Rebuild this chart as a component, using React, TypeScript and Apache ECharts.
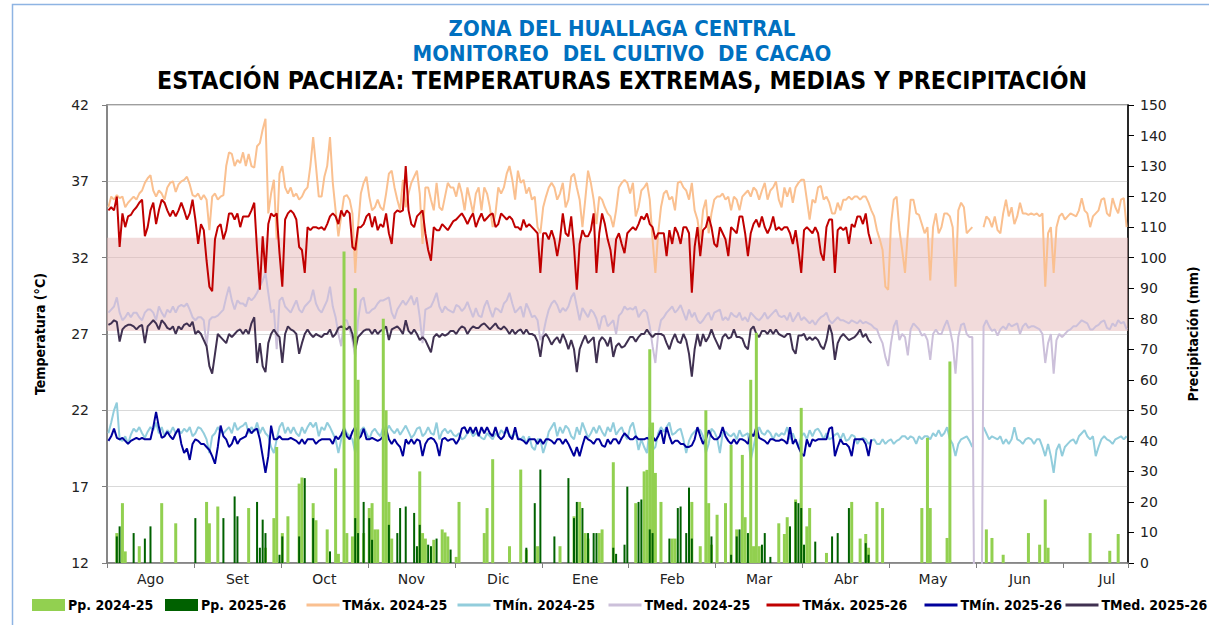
import React, { useEffect, useRef } from "react";
import * as echarts from "echarts";

// ---- categories: 12 months x 31 day-slots (last month shown up to slot 364) ----
const months = ["Ago", "Set", "Oct", "Nov", "Dic", "Ene", "Feb", "Mar", "Abr", "May", "Jun", "Jul"];
const SLOTS_PER_MONTH = 31;
const TOTAL_SLOTS = 364;

// ---- left axis ticks (°C) & right axis ticks (mm) ----
const tempTicks = [12, 17, 22, 27, 32, 37, 42];
const ppTicks = [0, 10, 20, 30, 40, 50, 60, 70, 80, 90, 100, 110, 120, 130, 140, 150];
const bandRange = [27.2, 33.3];

// ---- TMáx. 2024-25 ----
const tmax2425 = [
  35.3, 36.0, 35.8, 36.1, 35.9, 36.0, 35.3, 35.6, 35.8, 36.0, 35.8, 36.2, 36.4, 36.9, 37.2, 37.4, 36.4, 36.0, 36.4, 36.2, 35.8, 36.6, 36.9, 37.0, 36.3, 36.8, 37.0, 37.1, 37.3, 36.8, 36.1,
  36.0, 36.2, 35.8, 36.1, 35.8, 33.8, 36.0, 36.2, 35.8, 36.0, 36.1, 38.0, 38.9, 38.8, 38.0, 38.4, 38.2, 38.9, 38.0, 38.8, 38.0, 37.9, 39.3, 39.5, 40.4, 41.1, 34.9, 36.2, 37.1, 33.2, 37.5,
  38.0, 36.6, 36.2, 36.6, 36.0, 36.2, 35.8, 36.0, 36.4, 36.6, 38.0, 39.9, 38.0, 36.0, 36.0, 37.3, 38.0, 39.9, 36.9, 35.1, 33.4, 34.7, 36.0, 36.1, 35.8, 34.9, 31.0, 34.0, 36.2, 36.9, 37.3,
  36.0, 35.1, 35.3, 35.8, 35.3, 35.1, 36.2, 37.5, 37.7, 36.6, 35.8, 35.1, 37.1, 35.3, 36.2, 36.9, 37.3, 37.7, 36.2, 32.9, 36.6, 36.6, 35.8, 35.1, 36.9, 35.3, 35.1, 36.0, 36.9, 36.6, 36.6,
  36.0, 36.9, 36.2, 35.1, 36.6, 35.8, 34.9, 36.2, 36.6, 35.1, 36.6, 36.2, 35.3, 34.0, 34.9, 36.6, 36.2, 36.6, 37.5, 38.0, 37.1, 35.8, 37.7, 36.9, 37.1, 36.2, 36.6, 35.8, 36.0, 34.0, 33.6,
  35.3, 36.0, 36.6, 36.9, 36.6, 35.8, 36.2, 36.9, 35.3, 35.8, 37.3, 37.5, 36.6, 35.8, 34.0, 35.8, 37.7, 36.9, 35.8, 34.2, 36.0, 35.8, 35.3, 34.9, 34.7, 34.0, 35.1, 36.6, 36.9, 37.1, 36.9,
  36.2, 36.9, 34.7, 35.3, 36.4, 36.6, 36.9, 35.8, 33.2, 31.0, 33.6, 35.3, 36.2, 36.4, 35.8, 36.0, 35.1, 36.9, 37.0, 36.6, 36.4, 35.8, 36.9, 35.1, 34.5, 33.2, 35.1, 35.8, 33.6, 34.9, 35.8,
  36.0, 36.0, 36.2, 35.8, 36.0, 35.1, 36.0, 35.8, 35.1, 36.0, 36.2, 36.4, 36.0, 36.6, 36.4, 35.8, 36.4, 36.9, 35.8, 36.4, 36.6, 37.0, 35.8, 35.3, 36.6, 36.0, 36.6, 35.6, 36.6, 36.9, 37.1,
  37.1, 35.8, 34.5, 35.8, 35.6, 36.6, 36.7, 35.8, 36.0, 35.6, 34.9, 34.9, 35.6, 35.1, 35.8, 35.8, 36.0, 35.8, 36.0, 36.0, 35.8, 36.0, 36.0, 35.6, 35.1, 34.7, 33.8, 33.2, 32.5, 30.1, 29.9,
  34.2, 35.8, 36.0, 33.8, 32.5, 31.0, 33.6, 35.8, 35.8, 34.9, 34.8, 34.2, 33.6, 34.0, 30.5, 34.0, 34.9, 33.6, 34.0, 34.9, 34.9, 34.7, 34.0, 30.1, 35.1, 35.6, 35.3, 33.6, 33.8, 34.0, null,
  null, null, 34.0, 34.7, 34.5, 34.0, 34.7, 33.8, 33.6, 34.9, 35.8, 34.7, 35.3, 34.2, 34.7, 35.6, 34.9, 34.9, 34.8, 34.9, 34.8, 34.9, 34.7, 34.9, 30.1, 33.6, 34.0, 31.0, 34.0, 34.7, 34.9,
  34.5, 34.7, 34.9, 34.8, 34.7, 35.1, 35.9, 35.1, 34.9, 34.0, 34.7, 34.9, 35.1, 35.8, 35.9, 34.9, 34.7, 35.9, 35.3, 34.9, 35.8, 35.9, 34.0,
];

// ---- TMín. 2024-25 ----
const tmin2425 = [
  20.5, 21.2, 22.0, 22.5, 20.1, 20.0, 20.3, 19.8, 20.4, 20.8, 20.6, 20.9, 20.5, 20.2, 20.6, 20.9, 20.7, 21.2, 20.5, 20.9, 20.3, 20.7, 20.5, 20.9, 20.5, 20.7, 20.5, 20.8, 20.6, 20.9, 20.3,
  20.5, 20.9, 20.8, 20.5, 20.1, 19.2, 20.3, 20.5, 20.9, 20.6, 20.5, 20.7, 20.9, 20.5, 21.2, 20.7, 20.9, 21.0, 21.2, 20.5, 20.9, 20.6, 21.2, 20.5, 20.9, 20.5, 20.3, 19.6, 19.2, 20.1, 20.9,
  21.2, 20.5, 20.9, 20.5, 20.9, 20.5, 20.3, 20.9, 20.5, 20.9, 21.2, 20.9, 21.2, 20.3, 20.9, 20.7, 21.2, 20.9, 20.5, 20.1, 19.2, 20.1, 20.9, 20.5, 20.3, 20.1, 19.2, 20.1, 20.7, 20.9, 20.5,
  20.1, 20.6, 20.8, 20.5, 20.3, 20.9, 20.6, 21.0, 20.7, 20.5, 20.8, 20.4, 20.7, 21.0, 20.6, 20.2, 20.4, 20.8, 20.9, 20.3, 20.5, 20.9, 20.5, 20.4, 21.2, 20.1, 20.6, 20.8, 20.5, 20.7, 20.4,
  20.3, 20.5, 20.1, 20.2, 20.5, 20.7, 20.3, 20.5, 20.4, 20.2, 20.1, 20.5, 20.3, 20.1, 20.5, 20.3, 20.7, 20.5, 20.6, 20.4, 20.3, 20.5, 20.2, 20.1, 20.3, 19.8, 20.3, 19.6, 19.4, 20.1, 20.1,
  19.2, 19.8, 20.6, 20.9, 21.2, 20.3, 20.9, 20.5, 21.0, 20.8, 20.3, 20.1, 20.9, 20.4, 21.2, 20.7, 20.2, 20.5, 20.9, 20.5, 21.0, 20.6, 20.3, 20.9, 20.6, 21.2, 20.4, 20.7, 20.9, 20.4, 20.1,
  20.9, 21.2, 20.4, 19.4, 20.1, 19.6, 19.2, 20.9, 19.4, 19.6, 20.5, 20.9, 20.6, 20.9, 21.2, 20.4, 20.5, 20.7, 20.8, 20.1, 19.2, 20.0, 20.4, 20.6, 20.8, 20.7, 20.3, 19.2, 19.8, 20.8, 20.6,
  20.2, 19.2, 20.5, 20.6, 20.4, 20.3, 20.5, 20.1, 20.7, 20.3, 20.4, 20.5, 18.75, 19.6, 20.5, 20.9, 20.5, 20.4, 20.7, 20.5, 20.1, 20.5, 20.3, 20.5, 20.4, 20.9, 20.1, 20.5, 20.0, 19.6, 20.3,
  20.5, 20.1, 20.7, 20.3, 20.7, 20.8, 20.5, 20.1, 20.5, 20.1, 20.2, 20.4, 20.5, 20.1, 20.5, 20.0, 20.1, 20.4, 20.3, 19.8, 20.1, 20.2, 20.1, 19.8, 20.0, 20.1, 19.8, 19.8, 20.1, 19.8, 20.0,
  20.1, 19.8, 20.0, 20.1, 20.3, 20.3, 20.1, 20.3, 20.2, 19.8, 20.3, 20.1, 20.3, 20.3, 20.1, 20.5, 20.3, 20.7, 20.3, 20.5, 20.9, 20.1, 19.8, 19.0, 19.8, 20.1, 20.2, 20.3, 20.0, 19.6, null,
  null, null, 20.9, 20.5, 20.1, 20.3, 20.2, 20.1, 20.3, 19.8, 20.1, 19.8, 20.1, 20.9, 20.1, 20.0, 19.8, 20.1, 20.2, 20.1, 19.8, 20.1, 20.1, 19.6, 19.0, 19.8, 19.0, 17.9, 19.4, 19.8, 19.0,
  19.6, 19.8, 20.0, 20.1, 19.8, 20.3, 20.5, 20.7, 20.3, 20.1, 20.3, 19.0, 19.6, 20.1, 20.3, 20.1, 20.0, 19.8, 20.1, 20.2, 20.3, 20.1, 20.3,
];

// ---- TMed. 2024-25 ----
const tmed2425 = [
  28.4, 28.6, 28.8, 29.4, 28.4, 27.9, 28.1, 28.4, 28.1, 28.4, 28.4, 28.1, 27.9, 28.4, 28.6, 28.6, 28.4, 27.9, 28.8, 28.4, 28.1, 28.6, 28.4, 28.8, 28.4, 28.8, 28.9, 28.8, 29.0, 28.6, 28.1,
  27.9, 28.1, 28.1, 27.9, 26.2, 27.9, 28.1, 28.1, 28.2, 28.4, 28.6, 29.4, 30.1, 29.2, 28.6, 29.2, 29.0, 29.0, 28.8, 29.4, 29.2, 29.4, 29.7, 30.1, 30.5, 31.0, 29.7, 28.4, 28.6, 26.0, 29.2,
  29.4, 28.8, 28.6, 28.4, 28.8, 29.2, 28.6, 28.4, 28.8, 29.0, 29.2, 29.9, 29.0, 28.6, 28.4, 28.8, 29.2, 30.1, 28.8, 28.1, 27.0, 26.2, 27.9, 27.9, 27.3, 26.6, 25.5, 27.9, 29.2, 29.4, 28.4,
  28.4, 28.6, 28.7, 29.0, 29.2, 29.2, 29.3, 29.4, 28.4, 28.0, 28.6, 28.9, 29.2, 28.9, 29.2, 29.5, 28.9, 29.4, 28.1, 26.4, 28.6, 28.7, 28.8, 29.2, 29.7, 28.8, 28.4, 28.8, 28.6, 28.5, 28.4,
  28.9, 28.8, 28.5, 28.7, 29.1, 28.6, 28.1, 28.7, 28.2, 28.1, 28.8, 29.2, 28.6, 28.1, 28.7, 28.6, 28.4, 29.0, 29.2, 29.7, 29.0, 28.4, 28.6, 28.8, 28.1, 29.0, 28.6, 28.1, 28.2, 27.9, 26.6,
  27.0, 27.9, 28.6, 29.0, 29.2, 28.9, 28.4, 28.7, 28.5, 28.8, 29.4, 29.7, 28.8, 27.9, 28.7, 28.4, 28.1, 28.6, 28.4, 28.0, 27.3, 28.1, 28.2, 27.5, 27.7, 27.9, 27.0, 28.2, 28.4, 28.8, 28.6,
  28.7, 28.6, 28.8, 28.1, 28.4, 28.6, 28.4, 27.5, 26.2, 25.1, 27.0, 27.9, 28.1, 28.4, 28.6, 28.8, 28.4, 28.6, 28.9, 28.4, 27.9, 28.6, 28.1, 28.4, 27.9, 27.7, 27.9, 28.2, 28.4, 27.9, 28.4,
  28.5, 28.6, 27.9, 28.1, 27.9, 28.4, 28.2, 28.1, 28.4, 27.9, 28.1, 27.8, 28.4, 28.2, 28.0, 27.9, 28.1, 28.4, 28.0, 28.2, 28.4, 28.6, 28.2, 28.1, 28.2, 27.9, 28.4, 27.8, 28.1, 28.4, 27.9,
  28.1, 27.9, 27.7, 27.9, 27.6, 27.9, 28.1, 28.2, 28.4, 27.9, 27.7, 27.9, 28.1, 27.9, 27.9, 27.8, 27.7, 27.9, 27.8, 27.7, 27.9, 27.7, 27.8, 27.7, 27.6, 27.4, 27.3, 26.8, 26.4, 25.5, 24.9,
  26.4, 27.5, 27.9, 26.6, 27.0, 26.8, 25.6, 27.3, 27.7, 27.5, 27.3, 26.9, 27.0, 26.6, 25.3, 27.0, 27.3, 27.0, 27.0, 27.5, 27.9, 27.3, 26.4, 24.4, 26.8, 27.6, 27.7, 27.0, 26.8, 26.8, 0,
  0, 0, 27.5, 27.9, 27.5, 27.2, 27.3, 26.9, 27.3, 27.5, 27.3, 27.7, 27.5, 27.6, 27.7, 27.0, 27.5, 27.7, 27.4, 27.5, 27.5, 27.4, 27.3, 27.0, 25.1, 26.4, 27.0, 24.4, 26.6, 27.0, 26.8,
  27.0, 27.2, 27.3, 27.5, 27.5, 27.7, 27.9, 27.8, 27.7, 27.3, 27.3, 27.5, 27.6, 27.8, 27.9, 27.4, 27.3, 27.7, 27.5, 27.9, 27.7, 27.8, 27.3,
];

// ---- TMáx. 2025-26 (Aug 2025 - Apr 2026) ----
const tmax2526 = [
  35.1, 35.3, 35.1, 36.0, 32.7, 34.9, 34.0, 34.7, 34.8, 35.1, 35.3, 35.6, 35.8, 33.4, 34.0, 35.1, 35.6, 34.2, 35.1, 35.8, 35.6, 35.1, 34.7, 35.1, 34.7, 35.1, 35.6, 35.1, 34.5, 34.9, 35.8,
  34.5, 32.9, 34.2, 33.8, 31.8, 30.1, 29.8, 33.2, 34.0, 34.2, 33.2, 33.8, 34.9, 34.9, 34.5, 34.9, 34.0, 34.7, 34.7, 34.7, 35.1, 35.6, 32.5, 29.9, 33.4, 31.0, 34.2, 34.9, 34.7, 34.9, 32.3,
  30.1, 34.5, 34.9, 35.1, 34.9, 34.5, 32.7, 32.5, 31.0, 34.0, 33.8, 34.0, 34.0, 33.9, 34.0, 33.8, 34.2, 34.7, 34.9, 34.7, 34.2, 35.1, 34.7, 35.1, 34.9, 32.7, 32.5, 34.0, 34.0, 34.2, 34.7,
  34.9, 34.0, 34.7, 33.8, 34.2, 34.0, 34.9, 33.6, 32.9, 34.9, 35.1, 35.0, 35.1, 38.0, 35.1, 34.2, 34.0, 34.7, 34.9, 35.1, 33.6, 32.5, 31.8, 34.0, 33.8, 33.8, 34.2, 34.0, 33.8, 34.1, 34.4,
  34.5, 34.7, 34.9, 34.6, 34.2, 34.6, 34.9, 34.0, 34.5, 34.9, 34.4, 34.6, 34.8, 34.9, 34.0, 34.2, 34.9, 34.7, 34.5, 34.7, 34.5, 34.0, 34.0, 33.8, 34.5, 34.0, 34.2, 34.0, 33.8, 33.6, 31.0,
  33.6, 33.6, 33.2, 33.8, 33.2, 32.1, 33.2, 34.9, 33.6, 33.4, 34.7, 32.7, 29.9, 32.9, 33.8, 33.4, 33.4, 33.8, 34.9, 31.0, 33.6, 34.9, 34.2, 33.2, 32.5, 31.0, 33.2, 33.6, 32.9, 32.3, 33.6,
  33.8, 34.0, 33.8, 34.2, 34.7, 34.5, 34.9, 34.2, 34.0, 33.2, 33.6, 33.6, 33.6, 32.1, 33.8, 32.9, 34.0, 33.6, 32.9, 34.0, 34.0, 33.6, 29.7, 32.7, 34.0, 32.1, 33.8, 34.0, 34.7, 34.0, 32.9,
  32.7, 34.0, 33.6, 33.2, 32.1, 34.0, 33.8, 33.6, 34.7, 34.7, 33.6, 32.1, 33.6, 34.2, 34.5, 34.0, 34.7, 34.0, 33.6, 34.0, 34.7, 33.8, 34.0, 33.8, 34.0, 34.0, 33.6, 32.9, 33.8, 32.5, 31.0,
  33.8, 34.0, 33.8, 33.6, 34.0, 33.6, 32.3, 31.8, 34.0, 34.5, 34.5, 31.0, 33.8, 34.0, 33.8, 34.0, 32.9, 34.2, 34.0, 34.7, 34.7, 34.2, 34.9, 33.6, 32.9,
];

// ---- TMín. 2025-26 ----
const tmin2526 = [
  20.0, 20.3, 20.8, 20.2, 20.1, 20.2, 20.0, 19.8, 20.0, 20.1, 20.2, 20.1, 20.2, 20.1, 20.1, 20.1, 20.9, 21.9, 20.9, 20.2, 20.3, 20.6, 20.3, 20.1, 20.5, 20.8, 19.8, 19.2, 19.5, 18.75, 19.8,
  20.1, 20.0, 19.8, 19.8, 19.6, 19.4, 19.0, 18.5, 19.6, 21.0, 20.3, 20.1, 19.6, 19.8, 20.3, 19.8, 20.1, 20.2, 20.3, 20.8, 20.5, 20.7, 20.8, 20.1, 19.0, 17.9, 19.0, 21.0, 20.1, 20.1, 20.3,
  20.1, 20.1, 20.1, 20.2, 20.1, 20.0, 19.8, 20.1, 19.8, 20.1, 20.1, 20.1, 19.8, 20.0, 20.1, 20.1, 20.1, 20.1, 19.8, 20.3, 20.1, 20.4, 20.8, 20.3, 20.1, 20.6, 20.9, 20.1, 20.3, 20.8, 20.1,
  20.1, 20.2, 20.1, 20.0, 20.1, 20.3, 20.8, 20.1, 19.8, 20.1, 19.8, 19.6, 19.0, 20.1, 19.8, 20.1, 19.8, 20.1, 20.0, 19.0, 19.8, 20.1, 20.2, 20.1, 19.8, 19.0, 20.1, 20.2, 20.0, 20.1, 20.1,
  19.8, 20.1, 20.8, 20.9, 20.5, 20.9, 20.5, 20.9, 20.3, 20.9, 20.5, 20.9, 20.5, 20.3, 20.9, 20.3, 20.1, 20.3, 20.9, 20.3, 20.1, 20.9, 20.1, 20.1, 20.0, 19.8, 20.1, 20.1, 20.1, 19.8, 20.1,
  19.8, 20.1, 20.1, 20.0, 19.8, 20.1, 20.1, 19.8, 20.1, 19.8, 19.4, 19.0, 19.6, 19.0, 19.7, 20.3, 20.1, 20.0, 19.8, 20.1, 20.1, 19.7, 19.6, 20.1, 19.8, 20.1, 20.1, 19.8, 20.2, 20.5, 20.3,
  20.1, 20.1, 20.3, 20.1, 20.1, 20.1, 20.2, 20.1, 20.3, 20.0, 20.3, 20.7, 19.8, 20.9, 20.3, 19.8, 20.0, 20.0, 19.8, 19.8, 19.6, 19.6, 19.7, 20.1, 20.9, 20.3, 19.8, 20.1, 20.7, 20.3, 20.1,
  20.1, 20.3, 20.9, 20.3, 20.0, 19.8, 20.1, 19.8, 20.1, 20.1, 20.0, 19.8, 20.5, 20.3, 20.9, 20.2, 20.1, 20.0, 19.8, 20.1, 20.1, 20.0, 20.0, 20.1, 20.0, 19.8, 20.9, 19.8, 20.1, 19.6, 19.2,
  19.0, 20.1, 19.6, 20.1, 20.0, 20.1, 20.1, 20.1, 20.1, 20.8, 20.9, 19.0, 19.6, 20.1, 19.8, 19.8, 19.6, 19.0, 20.1, 20.1, 20.1, 20.1, 19.8, 19.0, 20.1,
];

// ---- TMed. 2025-26 ----
const tmed2526 = [
  27.6, 27.7, 27.9, 27.8, 26.5, 27.3, 27.5, 27.6, 27.6, 27.5, 27.3, 27.5, 27.6, 26.4, 27.5, 27.7, 27.9, 27.7, 27.3, 27.9, 27.7, 27.4, 27.3, 27.5, 27.0, 27.5, 27.3, 27.6, 27.7, 27.5, 27.8,
  27.0, 27.2, 27.0, 26.6, 26.2, 24.9, 24.4, 25.7, 27.0, 26.8, 26.6, 26.4, 27.0, 26.8, 27.0, 27.2, 27.3, 27.0, 27.3, 27.0, 27.7, 28.1, 25.1, 26.4, 24.9, 24.5, 26.4, 27.0, 27.3, 27.0, 26.8,
  25.1, 27.0, 27.5, 27.3, 27.2, 27.0, 25.7, 26.4, 27.0, 27.3, 27.0, 26.8, 27.0, 26.9, 26.8, 27.0, 27.0, 27.3, 26.8, 27.0, 27.4, 27.5, 27.4, 27.3, 27.5, 27.0, 26.0, 26.8, 27.0, 27.2, 27.3,
  27.3, 27.0, 27.3, 27.0, 27.2, 27.3, 27.5, 26.6, 27.3, 27.4, 27.5, 27.3, 27.0, 27.9, 27.2, 27.0, 27.3, 27.0, 26.6, 26.8, 26.6, 26.2, 25.8, 26.8, 27.0, 26.8, 27.0, 26.9, 27.0, 27.2, 27.2,
  27.0, 27.3, 27.5, 27.4, 27.0, 27.3, 27.5, 27.4, 27.4, 27.6, 27.7, 27.5, 27.3, 27.5, 27.7, 27.4, 27.3, 27.5, 27.3, 27.0, 27.3, 27.0, 27.2, 27.3, 27.0, 27.3, 27.0, 27.0, 26.9, 26.5, 25.5,
  26.8, 27.0, 26.7, 26.3, 26.6, 26.8, 26.4, 27.0, 26.6, 26.0, 26.6, 26.0, 24.5, 26.0, 26.5, 26.9, 26.4, 26.6, 26.8, 25.1, 26.5, 26.8, 26.6, 26.2, 26.8, 25.5, 26.2, 26.4, 26.1, 26.2, 26.5,
  26.8, 26.8, 26.5, 26.8, 27.0, 27.0, 27.3, 27.0, 26.8, 27.0, 27.0, 27.0, 26.9, 26.4, 26.0, 26.6, 27.0, 26.5, 26.4, 27.0, 26.6, 25.7, 24.2, 26.0, 27.0, 26.2, 27.0, 26.5, 26.8, 27.3, 26.8,
  26.4, 26.0, 26.8, 27.0, 26.7, 26.8, 27.3, 26.8, 26.8, 26.7, 26.2, 26.0, 27.3, 27.5, 27.0, 26.8, 27.2, 27.2, 27.0, 27.3, 27.0, 27.3, 27.0, 26.9, 26.8, 27.0, 27.0, 26.0, 25.7, 26.9, 26.9,
  27.0, 26.6, 26.8, 26.6, 26.8, 26.6, 26.2, 26.0, 26.6, 27.6, 27.0, 25.3, 26.4, 26.8, 27.0, 26.8, 26.6, 26.7, 26.8, 27.0, 27.3, 26.8, 27.0, 26.6, 26.4,
];

// ---- Pp. 2024-25: [day slot, mm] ----
const pp2425 = [
  [3, 9.8], [5, 19.6], [6, 3.8], [11, 5.5], [19, 19.6], [24, 13], [35, 20], [36, 13], [39, 18.5], [50, 18], [56, 5], [59, 14.7], [60, 38],
  [62, 9.8], [64, 15.3], [68, 26], [69, 28], [73, 19.6], [74, 14], [78, 11], [81, 31], [82, 3], [84, 102], [85, 9.8], [87, 8.7], [88, 90], [89, 60], [91, 9.8],
  [93, 18], [94, 19.6], [95, 11], [96, 11], [98, 80], [99, 50], [100, 20], [101, 8], [111, 30], [112, 9.8], [113, 8], [116, 7.6], [119, 11], [120, 10], [121, 8.7],
  [124, 2], [125, 20], [134, 9.8], [135, 18], [137, 34], [143, 5.5], [147, 30.6], [149, 4.4], [153, 5.5], [161, 5.5], [166, 15.3], [168, 20], [170, 9.8], [171, 8],
  [175, 9.8], [176, 11], [180, 33], [188, 19.6], [191, 30], [192, 30.5], [193, 70], [194, 46], [195, 29.5], [197, 20], [201, 8], [202, 8], [208, 20], [211, 5.5],
  [213, 50], [214, 19.6], [215, 6], [217, 15.8], [220, 19.6], [222, 38.7], [224, 11], [226, 35.4], [227, 15], [229, 60], [230, 5.5], [231, 75.4], [232, 5.5],
  [239, 13], [241, 9.5], [242, 15], [245, 20.8], [247, 50.8], [249, 12], [250, 18], [256, 3.3], [265, 20], [268, 8], [270, 9.5], [271, 5], [274, 20], [276, 18],
  [290, 18], [292, 41], [293, 18], [299, 8.2], [300, 66], [313, 11], [315, 8.2], [319, 2.7], [328, 9.8], [332, 6], [334, 20.8], [335, 5], [350, 9.8], [357, 4], [360, 9.5],
];

// ---- Pp. 2025-26: [day slot, mm] ----
const pp2526 = [
  [3, 8.7], [4, 12], [9, 9.8], [13, 8], [15, 12], [31, 14.7], [41, 14.7], [45, 21.8], [46, 15.3], [53, 20], [54, 5], [55, 14.2], [56, 9.8], [61, 2.7],
  [62, 8.7], [68, 8.7], [70, 27.8], [73, 14.7], [79, 3.8], [88, 14.7], [89, 9.8], [91, 20], [93, 14.7], [94, 7.6], [100, 12.5], [103, 9.8], [104, 18], [106, 18.5],
  [109, 16.4], [110, 5.5], [111, 12.5], [114, 6], [115, 5.5], [117, 8], [122, 4.4], [149, 5], [152, 19.6], [154, 30.6], [159, 8.7], [164, 27.8], [166, 14.7],
  [167, 20], [169, 18], [171, 9.8], [173, 9.8], [174, 9.8], [180, 5], [181, 3], [184, 6], [185, 25], [189, 20], [190, 20.8], [193, 11], [194, 9.8], [200, 8],
  [203, 18], [204, 18.5], [206, 9.8], [207, 24.7], [208, 8], [215, 8.7], [222, 2.7], [224, 8.7], [225, 11], [228, 9.8], [233, 6], [234, 9.8], [236, 2],
  [243, 12], [245, 20], [246, 19.6], [247, 18], [248, 6], [252, 7], [258, 8.7], [260, 9.8], [264, 18], [270, 6.5], [271, 2.7],
];

// ---- legend entries ----
const legendNames = ["Pp. 2024-25", "Pp. 2025-26", "TMáx. 2024-25", "TMín. 2024-25", "TMed. 2024-25", "TMáx. 2025-26", "TMín. 2025-26", "TMed. 2025-26"];
// layout: left edge (px) of each legend entry
const legendLefts = [32, 165, 305, 456, 607, 765, 923, 1064];

const NARROW = "'Liberation Sans Narrow', 'DejaVu Sans Condensed', 'Liberation Sans', sans-serif";
const AXISFONT = "'DejaVu Sans', Verdana, sans-serif";

function pad(arr: (number | null)[]): (number | null)[] {
  const out: (number | null)[] = [];
  for (let i = 0; i < TOTAL_SLOTS; i++) out.push(i < arr.length ? arr[i] : null);
  return out;
}
function expand(pairs: number[][]): (number | null)[] {
  const out: (number | null)[] = new Array(TOTAL_SLOTS).fill(null);
  pairs.forEach(([i, v]) => { out[i] = v; });
  return out;
}

export default function App() {
  const ref = useRef<HTMLDivElement>(null);
  useEffect(() => {
    if (!ref.current) return;
    const chart = echarts.init(ref.current, null, { renderer: "svg" });
    const categories: string[] = [];
    for (let i = 0; i < TOTAL_SLOTS; i++) {
      categories.push(months[Math.floor(i / SLOTS_PER_MONTH)] + "-" + ((i % SLOTS_PER_MONTH) + 1));
    }
    const lineBase = (name: string, data: (number | null)[], color: string, z: number) => ({
      name, type: "line", data: pad(data), symbol: "none", showSymbol: false, connectNulls: false,
      clip: true, xAxisIndex: 0, yAxisIndex: 0, z,
      lineStyle: { color, width: 2 }, itemStyle: { color },
    });
    const legends = legendNames.map((name, i) => ({
      left: legendLefts[i], top: 598, padding: 0, itemWidth: 33, itemHeight: 12,
      textStyle: { fontFamily: NARROW, fontSize: 14, fontWeight: "bold", color: "#000", padding: [0, 0, 0, -2] },
      data: [i < 2 ? { name, icon: "rect" } : { name, itemStyle: { opacity: 0 }, lineStyle: { width: 3 } }],
    }));
    const option: any = {
      animation: false,
      backgroundColor: "#ffffff",
      graphic: [
        { type: "rect", z: -10, shape: { x: 12.5, y: 4.5, width: 1400, height: 800 }, style: { fill: "none", stroke: "#8EB4E3", lineWidth: 1.5 } },
        { type: "text", x: 622, y: 28, style: { text: "ZONA DEL HUALLAGA CENTRAL", fill: "#0070C0", font: `bold 22px ${NARROW}`, textAlign: "center", textVerticalAlign: "middle" } },
        { type: "text", x: 622, y: 53, style: { text: "MONITOREO  DEL CULTIVO  DE CACAO", fill: "#0070C0", font: `bold 22px ${NARROW}`, textAlign: "center", textVerticalAlign: "middle" } },
        { type: "text", x: 622, y: 80, style: { text: "ESTACIÓN PACHIZA: TEMPERATURAS EXTREMAS, MEDIAS Y PRECIPITACIÓN", fill: "#000000", font: `bold 24.6px ${NARROW}`, textAlign: "center", textVerticalAlign: "middle" } },
      ],
      grid: { left: 107, right: 81, top: 105, bottom: 62, show: true, borderColor: "#7f7f7f", borderWidth: 1.5, backgroundColor: "transparent" },
      legend: legends,
      xAxis: [
        {
          type: "category", data: categories, boundaryGap: true, gridIndex: 0,
          axisLine: { show: true, lineStyle: { color: "#7f7f7f", width: 1.5 } },
          axisTick: { show: true, length: 5, interval: (i: number) => i % SLOTS_PER_MONTH === 0, lineStyle: { color: "#7f7f7f" } },
          axisLabel: {
            interval: (i: number) => i % SLOTS_PER_MONTH === 15,
            formatter: (v: string) => v.split("-")[0],
            fontFamily: AXISFONT, fontSize: 14, color: "#222", margin: 9,
          },
          splitLine: { show: false },
        },
        { type: "category", data: categories, boundaryGap: true, gridIndex: 0, show: false },
      ],
      yAxis: [
        {
          type: "value", min: tempTicks[0], max: tempTicks[tempTicks.length - 1], interval: tempTicks[1] - tempTicks[0],
          name: "Temperatura (°C)", nameLocation: "middle", nameGap: 60, nameRotate: 90,
          nameTextStyle: { fontFamily: NARROW, fontSize: 14, fontWeight: "bold", color: "#000" },
          axisLine: { show: true, lineStyle: { color: "#7f7f7f", width: 1.5 } },
          axisTick: { show: true, length: 5, lineStyle: { color: "#7f7f7f" } },
          axisLabel: { fontFamily: AXISFONT, fontSize: 14, color: "#222", margin: 18 },
          splitLine: { show: true, lineStyle: { color: "#D9D9D9", width: 1 } },
        },
        {
          type: "value", min: ppTicks[0], max: ppTicks[ppTicks.length - 1], interval: ppTicks[1] - ppTicks[0], position: "right",
          name: "Precipitación (mm)", nameLocation: "middle", nameGap: 58, nameRotate: 90,
          nameTextStyle: { fontFamily: NARROW, fontSize: 14, fontWeight: "bold", color: "#000" },
          axisLine: { show: true, lineStyle: { color: "#000", width: 1.5 } },
          axisTick: { show: true, length: 6, lineStyle: { color: "#000" } },
          axisLabel: { fontFamily: AXISFONT, fontSize: 14, color: "#222", margin: 12 },
          splitLine: { show: false },
        },
      ],
      series: [
        lineBase("TMáx. 2024-25", tmax2425, "#FAC090", 2),
        lineBase("TMín. 2024-25", tmin2425, "#92CDDC", 2),
        lineBase("TMed. 2024-25", tmed2425, "#CCC0DA", 2),
        lineBase("TMáx. 2025-26", tmax2526, "#C00000", 2),
        lineBase("TMín. 2025-26", tmin2526, "#00009C", 2),
        lineBase("TMed. 2025-26", tmed2526, "#403151", 2),
        { name: "Pp. 2024-25", type: "bar", xAxisIndex: 0, yAxisIndex: 1, data: expand(pp2425), barWidth: 3, itemStyle: { color: "#92D050" }, z: 3 },
        { name: "Pp. 2025-26", type: "bar", xAxisIndex: 1, yAxisIndex: 1, data: expand(pp2526), barWidth: 2, itemStyle: { color: "#006100" }, z: 4 },
        {
          name: "band", type: "line", xAxisIndex: 0, yAxisIndex: 0, data: [], z: 6, silent: true,
          markArea: { silent: true, itemStyle: { color: "rgba(230,184,183,0.5)" }, data: [[{ yAxis: bandRange[0] }, { yAxis: bandRange[1] }]] },
        },
      ],
    };
    chart.setOption(option);
    return () => chart.dispose();
  }, []);
  return <div ref={ref} style={{ position: "fixed", left: 0, top: 0, width: 1209, height: 625, background: "#fff" }} />;
}
